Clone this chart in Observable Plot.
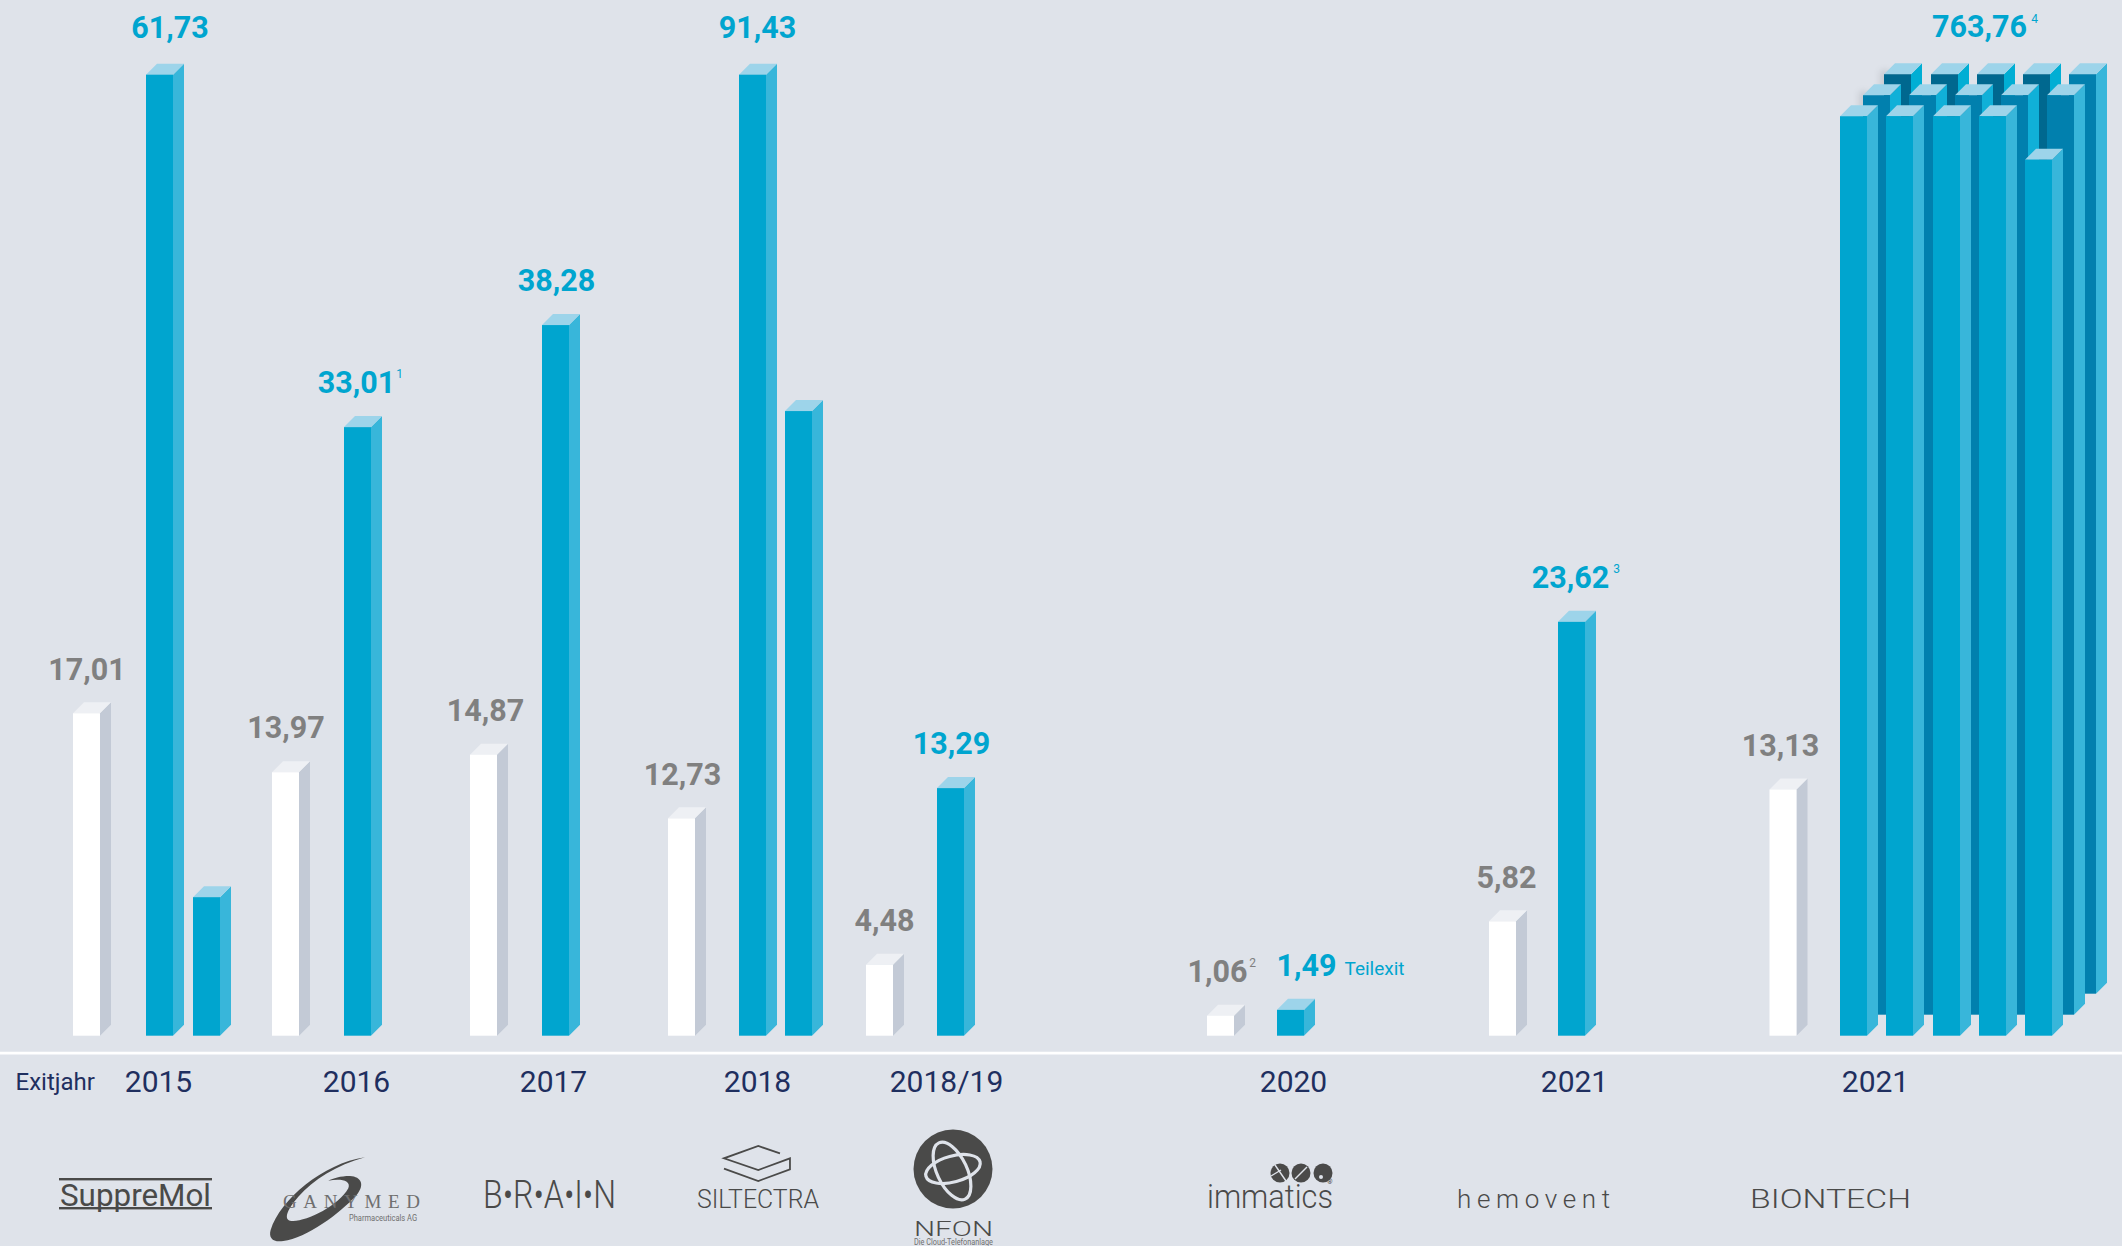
<!DOCTYPE html>
<html lang="de">
<head>
<meta charset="utf-8">
<title>Exits</title>
<script src="https://cdn.jsdelivr.net/npm/d3@7"></script>
<script src="https://cdn.jsdelivr.net/npm/@observablehq/plot@0.6"></script>
<style>
html,body{margin:0;padding:0;background:#dfe3ea;}
svg{display:block;}
</style>
</head>
<body>
<div id="chart"></div>
<script>
// ---------- data ----------
const companies = ["SuppreMol","Ganymed","BRAIN","Siltectra","NFON","immatics","hemovent","BioNTech"];
const exitYears = ["2015","2016","2017","2018","2018/19","2020","2021","2021"];
const barCompany = ["SuppreMol","SuppreMol","SuppreMol","Ganymed","Ganymed","BRAIN","BRAIN","Siltectra","Siltectra","Siltectra","NFON","NFON","immatics","immatics","hemovent","hemovent","BioNTech"];
const barKind    = ["in","out","out","in","out","in","out","in","out","out","in","out","in","out","in","out","in"];
const barHeight  = [17.06,50.85,7.33,13.94,32.2,14.87,37.6,11.5,50.85,33.05,3.75,13.1,1.06,1.37,6.05,21.9,13.03];
const clusterHeights = [
  [48.65,48.65,48.65,48.65,48.65],
  [48.65,48.65,48.65,48.65,48.65],
  [48.65,48.65,48.65,48.65,46.35]
];
const labelTexts = ["17,01","61,73","13,97","33,01","14,87","38,28","12,73","91,43","4,48","13,29","1,06","1,49","5,82","23,62","13,13","763,76"];
const labelKinds = ["in","out","in","out","in","out","in","out","in","out","in","out","in","out","in","out"];
const footnotes  = ["1","2","3","4"];

// ---------- layout (scale units, separate from the data) ----------
const W = 2122, H = 1246, UNIT = 18.9, BASE = 1035.7;
const DX = 11, DY = 11 / UNIT, BAR_W = 27;
const barLeft = [73,146,193,272,344,470,542,668,739,785,866,937,1207,1277,1489,1558,1769.5];
const clusterLeft = [
  [1884,1931,1977,2023,2069],
  [1863,1909,1955,2001,2047],
  [1840,1886,1933,1979,2025]
];
const clusterLift = [42/UNIT, 21/UNIT, 0];
const labelCenter = [86.5,169.5,285.5,356,485,556,682,757,884,951,1217,1306,1506,1570,1780,1979];
const labelHeightOf = [0,1,3,4,5,6,7,8,10,11,12,13,14,15,16,null];
const LABEL_GAP = 44 / UNIT;
const yearCenter = [158,356,553,757,946,1293,1574,1875];

const C = {
  bg:"#dfe3ea", navy:"#1f2f5f", grey:"#808080", blue:"#00a5cf", logo:"#4a4a49",
  in:{front:"#ffffff", side:"#c3cad6", top:"#eef0f4"},
  out:{front:"#00a5cf", side:"#38b6da", top:"#9dd4ea"},
  mid:{front:"#0180ae", side:"#10b0d8", top:"#9dd4ea"},
  midEnd:{front:"#0180ae", side:"#38b6da", top:"#9dd4ea"},
  back:{front:"#00688f", side:"#01aed4", top:"#9dd4ea"},
  backEnd:{front:"#0280ae", side:"#38b6da", top:"#9dd4ea"}
};

function bar3d(left, lift, height, col){
  const x0 = left, x1 = left + BAR_W, y0 = lift, y1 = lift + height;
  const side = [{x:x1,a:y0,b:y1},{x:x1+DX,a:y0+DY,b:y1+DY}];
  const top  = [{x:x0,a:y1,b:y1},{x:x0+DX,a:y1,b:y1+DY},{x:x1,a:y1,b:y1+DY},{x:x1+DX,a:y1+DY,b:y1+DY}];
  return [
    Plot.areaY(side,{x:"x",y1:"a",y2:"b",fill:col.side}),
    Plot.areaY(top,{x:"x",y1:"a",y2:"b",fill:col.top}),
    Plot.rect([{x0,x1,y0,y1}],{x1:"x0",x2:"x1",y1:"y0",y2:"y1",fill:col.front,inset:0})
  ];
}

const barMarks = barHeight.flatMap((h,i)=>bar3d(barLeft[i],0,h,C[barKind[i]]));
const rowMarks = r => clusterHeights[r].flatMap((h,c)=>{
  const col = r===2 ? C.out : r===1 ? (c===4?C.midEnd:C.mid) : (c===4?C.backEnd:C.back);
  return bar3d(clusterLeft[r][c],clusterLift[r],h,col);
});
// soft shadows that the front rows throw on the rows behind
const shadow = (x1,x2,y1,y2,o=0.2)=>Plot.rect([{x1,x2,y1,y2}],{x1:"x1",x2:"x2",y1:"y1",y2:"y2",fill:"#000",fillOpacity:o,imageFilter:"blur(3px)",inset:0});
const top0 = clusterHeights[0][0];
const clusterMarks = [
  shadow(1880,1890,clusterLift[0]+top0-22/UNIT,clusterLift[0]+top0+4/UNIT,0.1),
  ...rowMarks(0),
  shadow(1859,1868,clusterLift[1]+top0-22/UNIT,clusterLift[1]+top0+4/UNIT,0.1),
  ...rowMarks(1),
  ...rowMarks(2)
];

const labelRows = labelTexts.map((t,i)=>{
  const k = labelHeightOf[i];
  const top = k===null ? clusterLift[0]+clusterHeights[0][0] : barHeight[k];
  const tall = k===null || top>50;
  return {t,x:labelCenter[i],y:top+(tall?47/UNIT:LABEL_GAP),kind:labelKinds[i]};
});
const supRows = [
  {t:footnotes[0],x:399,y:labelRows[3].y,kind:"out"},
  {t:footnotes[1],x:1252,y:labelRows[10].y,kind:"in"},
  {t:footnotes[2],x:1616,y:labelRows[13].y,kind:"out"},
  {t:footnotes[3],x:2034,y:labelRows[15].y,kind:"out"}
];
const LEGEND_Y = -46.5/UNIT;
const yearRows = exitYears.map((t,i)=>({t,x:yearCenter[i],y:LEGEND_Y}));
const noteRows = [{t:"Teilexit",x:1374,y:labelRows[11].y}];
const axisTitle = [{t:"Exitjahr",x:15,y:LEGEND_Y}];

// ---------- logos, drawn as real text plus small vector shapes ----------
function logos(){
  const g = d3.create("svg:g").attr("fill",C.logo).attr("text-anchor","start");
  const txt = (s,x,base,size,len,opt={})=>{
    const e = g.append("text").text(s).attr("x",x).attr("y",base)
      .attr("font-family",opt.family||"Roboto").attr("font-size",size)
      .attr("font-weight",opt.weight||400).attr("fill",opt.fill||C.logo);
    if(len) e.attr("textLength",len).attr("lengthAdjust",opt.adjust||"spacingAndGlyphs");
    return e;
  };
  // SuppreMol
  g.append("rect").attr("x",59).attr("y",1178).attr("width",153).attr("height",2.4);
  g.append("rect").attr("x",59).attr("y",1207).attr("width",153).attr("height",2.4);
  txt("SuppreMol",60,1206,32,151);
  // Ganymed
  g.append("path").attr("transform","translate(40,1130) scale(0.3333)")
    .attr("d","M975,82 C850,100 720,210 692,300 C685,325 700,338 730,333 C800,325 900,250 950,195 C975,165 965,140 930,138 C900,138 880,145 865,152 C900,145 935,150 925,175 C895,230 790,280 750,272 C730,265 745,235 775,200 C820,150 890,105 975,82 Z");
  txt("GANYMED",283,1208,19,137,{family:"Liberation Serif",adjust:"spacing",fill:"#6f6f6f"});
  txt("Pharmaceuticals AG",349,1221,8.5,68,{fill:"#6f6f6f"});
  // BRAIN
  txt("B•R•A•I•N",483,1208,38,133,{weight:300});
  // Siltectra
  g.append("path").attr("fill","none").attr("stroke",C.logo)
    .attr("transform","translate(460,1120) scale(0.3333)").attr("stroke-width",5.4)
    .attr("d","M960,100 L895,78 L792,115 L895,150 L990,115 L990,148 L895,183 L792,146");
  txt("SILTECTRA",697,1208,26,122,{weight:300});
  // NFON
  g.append("circle").attr("cx",953).attr("cy",1169).attr("r",39.5);
  const e = g.append("g").attr("fill","none").attr("stroke",C.bg).attr("stroke-width",3.2);
  e.append("ellipse").attr("rx",31).attr("ry",15).attr("transform","translate(952,1171) rotate(65)");
  e.append("ellipse").attr("rx",28).attr("ry",13).attr("transform","translate(953,1169) rotate(-15)");
  txt("NFON",914,1236,20,79,{weight:300});
  txt("Die Cloud-Telefonanlage",914,1245,8.5,79,{fill:"#6f6f6f"});
  // immatics
  for(const cx of [1280,1301,1323]) g.append("circle").attr("cx",cx).attr("cy",1173).attr("r",9.5);
  const d = g.append("g").attr("fill","none").attr("stroke",C.bg).attr("stroke-width",1.4);
  d.append("path").attr("d","M1275,1165 L1286,1181 M1271,1176 L1281,1170");
  d.append("path").attr("d","M1295,1179 L1307,1167");
  g.append("circle").attr("cx",1321).attr("cy",1177).attr("r",2).attr("fill",C.bg);
  txt("immatics",1207,1208,34,126,{weight:300});
  txt("®",1327,1184,7,null);
  // hemovent
  txt("hemovent",1457,1208,26,153,{weight:300,adjust:"spacing"});
  // BioNTech
  txt("BIONTECH",1750,1208,26,161,{weight:300});
  return g.node();
}

const textBase = {fontFamily:"Roboto",lineAnchor:"middle",x:"x",y:"y",text:"t"};
const plot = Plot.plot({
  width:W, height:H,
  marginTop:0, marginRight:0, marginBottom:0, marginLeft:0,
  style:{background:C.bg},
  x:{domain:[0,W],range:[0,W],axis:null},
  y:{domain:[0,BASE/UNIT],range:[BASE,0],axis:null},
  marks:[
    ...barMarks,
    ...clusterMarks,
    Plot.ruleY([-17/UNIT],{stroke:"#ffffff",strokeWidth:2.8}),
    Plot.text(labelRows,{...textBase,fontSize:30.5,fontWeight:700,fill:d=>d.kind==="out"?C.blue:C.grey}),
    Plot.text(supRows,{...textBase,dy:-9,fontSize:12,fill:d=>d.kind==="out"?C.blue:C.grey}),
    Plot.text(noteRows,{...textBase,dy:3,fontSize:19,fill:C.blue}),
    Plot.text(yearRows,{...textBase,fontSize:30,fill:C.navy}),
    Plot.text(axisTitle,{...textBase,textAnchor:"start",fontSize:24,fill:C.navy}),
    logos
  ]
});
document.getElementById("chart").appendChild(plot);
</script>
</body>
</html>
